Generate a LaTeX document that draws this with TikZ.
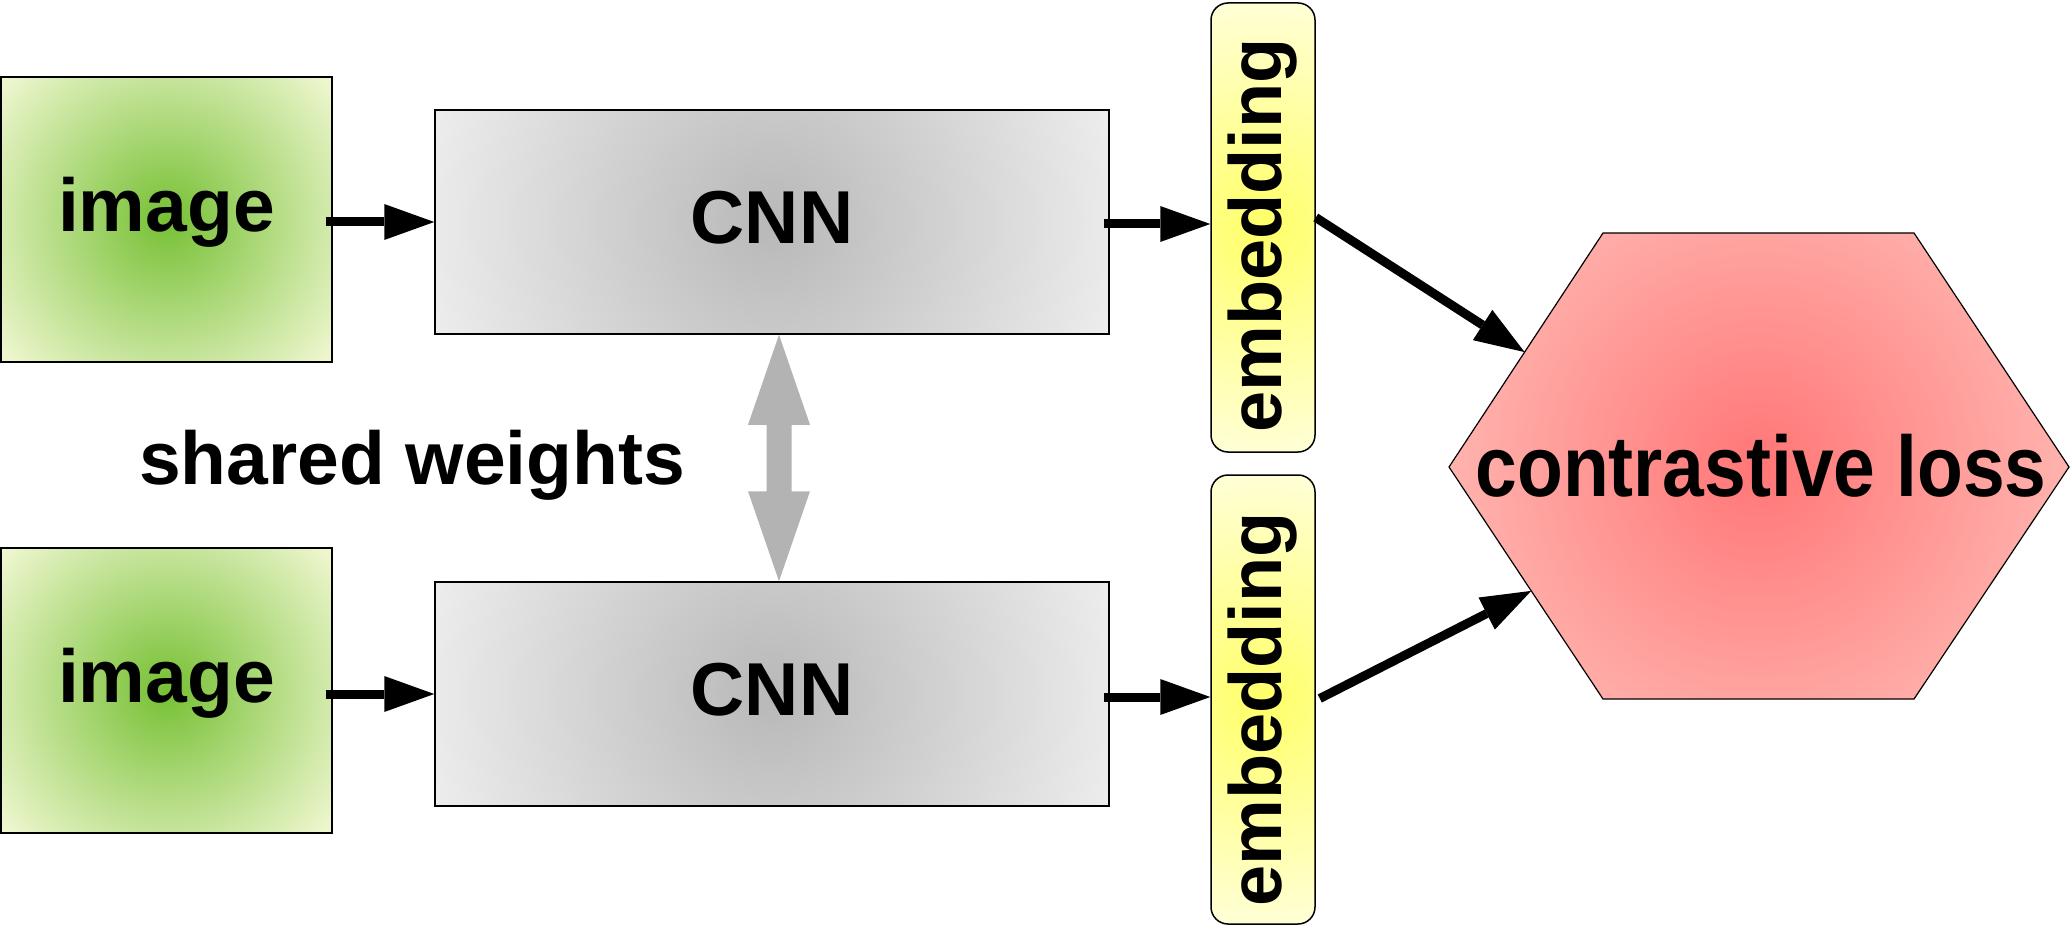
\documentclass[tikz,border=0pt]{standalone}
\usepackage{fontspec}
\usepackage{graphicx}
\setmainfont{Liberation Sans}
\newfontfamily\narrowfont{Liberation Sans}[FakeStretch=0.872]
\usetikzlibrary{arrows.meta,calc}

\definecolor{gIn}{RGB}{118,192,52}
\definecolor{gOut}{RGB}{244,249,214}
\definecolor{cIn}{RGB}{184,184,184}
\definecolor{cOut}{RGB}{238,238,238}
\definecolor{yIn}{RGB}{255,255,104}
\definecolor{yOut}{RGB}{255,255,218}
\definecolor{rIn}{RGB}{255,118,118}
\definecolor{rOut}{RGB}{255,196,190}
\definecolor{wArrow}{RGB}{179,179,179}

\begin{document}
\begin{tikzpicture}[x=0.5pt,y=-0.5pt,
  rfill/.style 2 args={path picture={
    \shade[inner color=#1,outer color=#2]
      let \p1=(path picture bounding box.north east),
          \p2=(path picture bounding box.center),
          \n1={1.02*veclen(\x1-\x2,\y1-\y2)} in
      (\p2) circle[radius=\n1];}},
  every node/.style={font=\fontsize{37.5pt}{45pt}\selectfont\bfseries, inner sep=0pt},
  imgbox/.style={draw=black, line width=0.75pt, rfill={gIn}{gOut},
    minimum width=165.5pt, minimum height=142.5pt,
    text height=20.25pt, text depth=7.9pt},
  cnnbox/.style={draw=black, line width=0.75pt, rfill={cIn}{cOut},
    minimum width=337pt, minimum height=112pt,
    text height=28pt, text depth=7pt},
  embbox/.style={draw=black, line width=0.75pt, rounded corners=8.5pt,
    rfill={yIn}{yOut}, minimum width=52pt, minimum height=224.5pt,
    font=\fontsize{37pt}{44pt}\selectfont\bfseries},
  hexfill/.style={draw=black, line width=0.6pt, rfill={rIn}{rOut}},
  arr/.style={line width=4.5pt, -{Triangle[length=25pt,width=18pt,line width=0pt]}},
  wgt/.style={fill=wArrow, draw=none},
  losstext/.style={font=\fontsize{43pt}{50pt}\selectfont\narrowfont\bfseries}
]
\useasboundingbox (0,0) rectangle (2071,925);

% boxes
\node[imgbox] (img1) at (166.5,219.5) {image};
\node[imgbox] (img2) at (166.5,690.5) {image};
\node[cnnbox] (cnn1) at (772,222) {CNN};
\node[cnnbox] (cnn2) at (772,694) {CNN};
\node[embbox] (e1) at (1263,227.5) {\rotatebox{90}{embedding\kern8pt}};
\node[embbox] (e2) at (1263,699.5) {\rotatebox{90}{embedding\kern10pt}};

% hexagon
\coordinate (hL)  at (1449,467);
\coordinate (hTL) at (1603,233);
\coordinate (hTR) at (1914,233);
\coordinate (hR)  at (2069,467);
\coordinate (hBR) at (1914,699);
\coordinate (hBL) at (1603,699);
\path[hexfill] (hL) -- (hTL) -- (hTR) -- (hR) -- (hBR) -- (hBL) -- cycle;
\node[losstext, anchor=base] (loss) at (1761,496) {contrastive loss};
\coordinate (a1) at ($(hL)!0.491!(hTL)$);
\coordinate (a2) at ($(hL)!0.534!(hBL)$);

\node[anchor=base] (sw) at (412,484) {shared weights};

% connectors
\draw[arr] ($(img1.east |- cnn1.west)+(-7,0)$) -- (cnn1.west);
\draw[arr] ($(img2.east |- cnn2.west)+(-7,0)$) -- (cnn2.west);
\draw[arr] ($(cnn1.east)+(-6,2)$) -- ($(cnn1.east -| e1.west)+(0,2)$);
\draw[arr] ($(cnn2.east)+(-6,3)$) -- ($(cnn2.east -| e2.west)+(0,3)$);
\draw[arr] ($(e1.east)+(0,-10)$) -- (a1);
\draw[arr] ($(e2.east)+(4,-1)$) -- (a2);

% shared-weights double arrow between the two CNN boxes
\coordinate (wT) at ($(cnn1.south)+(7,0)$);
\coordinate (wB) at ($(cnn2.north)+(7,0)$);
\path[wgt] (wT) -- ($(wT)+(31,90)$) -- ($(wT)+(12.5,90)$)
  -- ($(wB)+(12.5,-90)$) -- ($(wB)+(31,-90)$) -- (wB)
  -- ($(wB)+(-31,-90)$) -- ($(wB)+(-12.5,-90)$)
  -- ($(wT)+(-12.5,90)$) -- ($(wT)+(-31,90)$) -- cycle;
\end{tikzpicture}
\end{document}
